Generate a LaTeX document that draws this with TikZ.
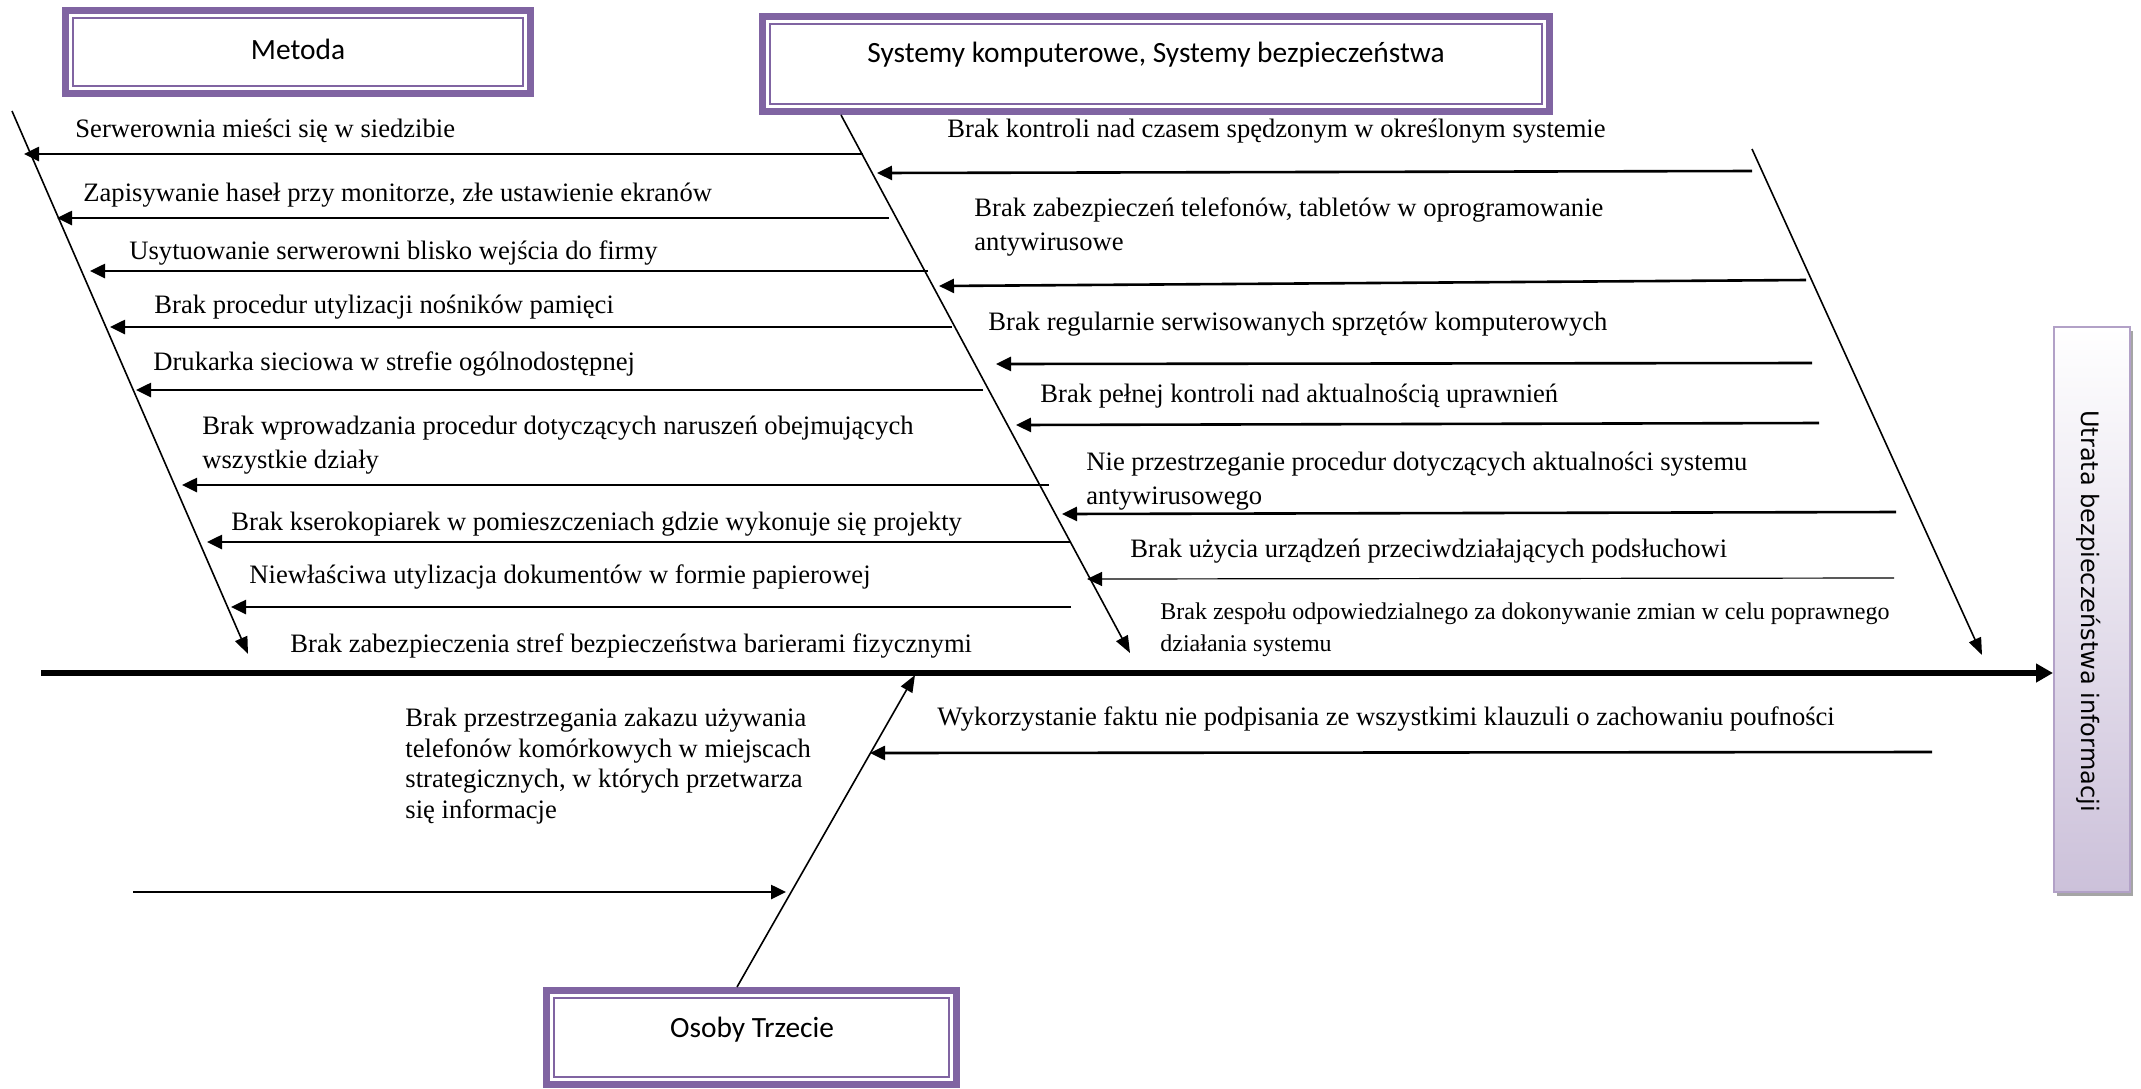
\documentclass[tikz,border=0pt]{standalone}
\usepackage{fontspec}
\setmainfont{Liberation Serif}
\newfontfamily\boxfont{Carlito}
\newfontfamily\effectfont{DejaVu Sans}
\usetikzlibrary{arrows.meta,calc,shadows}

\definecolor{purp}{RGB}{128,100,162}
\definecolor{lavline}{RGB}{178,161,199}
\definecolor{lavfill}{RGB}{204,193,218}
\definecolor{shadowgray}{RGB}{165,165,165}

\begin{document}
\begin{tikzpicture}[x=0.5pt,y=-0.5pt,
  bone/.style={line width=0.8pt, -{Triangle[length=8.5pt,width=6.5pt]}},
  rib/.style={line width=1.3pt, -{Triangle[length=7.5pt,width=7pt]}},
  thinrib/.style={line width=0.6pt, -{Triangle[length=7.5pt,width=7pt]}},
  spine/.style={line width=2.7pt, -{Triangle[length=8.5pt,width=9pt]}},
  cause/.style={font=\fontsize{13.3}{17}\selectfont, inner sep=0pt, anchor=base west, align=left},
  smallcause/.style={font=\fontsize{12}{16}\selectfont, inner sep=0pt, anchor=base west, align=left},
  catbox/.style={draw=purp, line width=3.5pt, fill=white, inner sep=0pt},
  cattext/.style={font=\boxfont\fontsize{14.7}{17}\selectfont, inner sep=0pt},
  innerframe/.style={draw=purp, line width=1pt},
]
\useasboundingbox (0,0) rectangle (2141,1088);

% ---- effect box on the right ----
\node[draw=lavline, line width=1pt, top color=white, bottom color=lavfill,
      minimum width=38pt, minimum height=282.5pt, inner sep=0pt,
      drop shadow={shadow xshift=1.5pt, shadow yshift=-2pt, fill=shadowgray, opacity=1}]
      (effect) at (2092,609.5) {};
\node[rotate=-90, inner sep=0pt, font=\effectfont\fontsize{12}{15}\selectfont]
      (effectT) at (2089,611) {Utrata bezpieczeństwa informacji};

% ---- main spine ----
\coordinate (spL) at (41,673);
\draw[spine] (spL) -- (effect.west |- spL);

% ---- category boxes (anchors lie on the outer edge of the thick band) ----
\node[catbox, minimum width=232.5pt, minimum height=41.5pt] (metoda) at (298,52) {};
\node[catbox, minimum width=393.5pt, minimum height=47.5pt] (sys) at (1156,64) {};
\node[catbox, minimum width=205pt, minimum height=47pt] (osoby) at (751.5,1037.5) {};

% ---- main bones ----
\coordinate (mbA) at (12,111);
\coordinate (mbB) at (248,654);
\draw[bone] (mbA) -- (mbB);

\coordinate (mTip) at (1130,653);
\draw[bone] ([xshift=41pt]sys.south west) -- (mTip);

\coordinate (rTop) at (1752,149);
\coordinate (rTip) at (1982,655);
\draw[bone] (rTop) -- (rTip);

\coordinate (oTip) at (915,675);
\draw[bone] ([xshift=97pt]osoby.north west) -- (oTip);

% ---- ribs of the left bone ----
\foreach \n/\xa/\xb/\yy in {1/863/24/154, 2/889/57/218, 3/928/90/271, 4/952/110/327,
                            5/983/136/390, 6/1049/182/485, 7/1071/207/542, 8/1071/231/607}{
  \coordinate (la\n) at (\xa,\yy);
  \coordinate (lb\n) at (\xb,\yy);
  \draw[rib] (la\n) -- (lb\n);
}

% ---- ribs of the middle bone ----
\foreach \n/\xa/\ya/\xb/\yb in {1/1752/171/877/173, 2/1806/280/939/286, 3/1812/363/996/364,
                                4/1819/423/1016/425, 5/1896/512/1062/514}{
  \coordinate (ra\n) at (\xa,\ya);
  \coordinate (rb\n) at (\xb,\yb);
  \draw[rib] (ra\n) -- (rb\n);
}
\coordinate (ra6) at (1894,578);
\coordinate (rb6) at (1087,579);
\draw[thinrib] (ra6) -- (rb6);

% ---- ribs of the lower bone ----
\coordinate (wa) at (1932,752);
\coordinate (wb) at (870,753);
\draw[rib] (wa) -- (wb);
\coordinate (pa) at (133,892);
\coordinate (pb) at (786,892);
\draw[rib] (pa) -- (pb);

% ---- inner frames and titles of the category boxes ----
\foreach \b in {metoda,sys,osoby}{
  \draw[innerframe] ([shift={(11,11)}]\b.north west) rectangle ([shift={(-11,-11)}]\b.south east);
}
\node[cattext] (metodaT) at (298,49) {Metoda};
\node[cattext] (sysT) at (1156,55) {Systemy komputerowe, Systemy bezpieczeństwa};
\node[cattext] (osobyT) at (752,1030) {Osoby Trzecie};

% ---- causes: Metoda (multi-line labels sit on the baseline of their last line) ----
\node[cause] (l1) at (75,137) {Serwerownia mieści się w siedzibie};
\node[cause] (l2) at (83,201) {Zapisywanie haseł przy monitorze, złe ustawienie ekranów};
\node[cause] (l3) at (129,259) {Usytuowanie serwerowni blisko wejścia do firmy};
\node[cause] (l4) at (154,313) {Brak procedur utylizacji nośników pamięci};
\node[cause] (l5) at (153,370) {Drukarka sieciowa w strefie ogólnodostępnej};
\node[cause] (l6) at (202,468) {Brak wprowadzania procedur dotyczących naruszeń obejmujących\\wszystkie działy};
\node[cause] (l7) at (231,530) {Brak kserokopiarek w pomieszczeniach gdzie wykonuje się projekty};
\node[cause] (l8) at (249,583) {Niewłaściwa utylizacja dokumentów w formie papierowej};
\node[cause] (l9) at (290,652) {Brak zabezpieczenia stref bezpieczeństwa barierami fizycznymi};

% ---- causes: Systemy ----
\node[cause] (r1) at (947,137) {Brak kontroli nad czasem spędzonym w określonym systemie};
\node[cause] (r2) at (974,250) {Brak zabezpieczeń telefonów, tabletów w oprogramowanie\\antywirusowe};
\node[cause] (r3) at (988,330) {Brak regularnie serwisowanych sprzętów komputerowych};
\node[cause] (r4) at (1040,402) {Brak pełnej kontroli nad aktualnością uprawnień};
\node[cause] (r5) at (1086,504) {Nie przestrzeganie procedur dotyczących aktualności systemu\\antywirusowego};
\node[cause] (r6) at (1130,557) {Brak użycia urządzeń przeciwdziałających podsłuchowi};
\node[smallcause] (r7) at (1160,651) {Brak zespołu odpowiedzialnego za dokonywanie zmian w celu poprawnego\\działania systemu};

% ---- causes: Osoby Trzecie ----
\node[cause] (w1) at (937,725) {Wykorzystanie faktu nie podpisania ze wszystkimi klauzuli o zachowaniu poufności};
\node[cause, font=\fontsize{13.3}{15.25}\selectfont] (p1) at (405,818)
  {Brak przestrzegania zakazu używania\\telefonów komórkowych w miejscach\\strategicznych, w których przetwarza\\się informacje};

\end{tikzpicture}
\end{document}
